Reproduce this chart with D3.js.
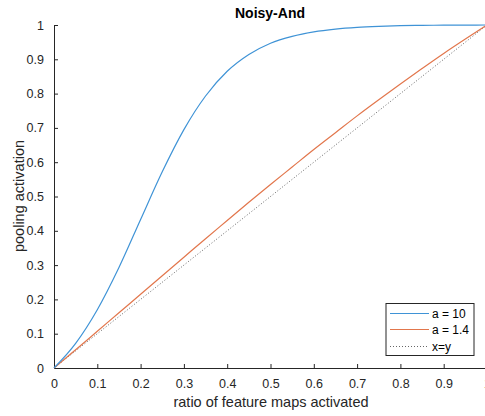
<!DOCTYPE html>
<html>
<head>
<meta charset="utf-8">
<script src="https://cdn.jsdelivr.net/npm/d3@7"></script>
<style>
  body { margin: 0; background: #fff; }
  svg { font-family: "Liberation Sans", Arial, sans-serif; }
</style>
</head>
<body>
<div id="chart"></div>
<script>
// values
const ratio = [0, 0.05, 0.1, 0.15, 0.2, 0.25, 0.3, 0.35, 0.4, 0.45, 0.5,
               0.55, 0.6, 0.65, 0.7, 0.75, 0.8, 0.85, 0.9, 0.95, 1];
const a10  = [0, 0.072, 0.170, 0.293, 0.433, 0.572, 0.695, 0.793, 0.865, 0.914, 0.947,
              0.967, 0.980, 0.988, 0.993, 0.996, 0.998, 0.999, 0.9994, 0.9998, 1];
const a14  = [0, 0.053, 0.107, 0.161, 0.215, 0.269, 0.323, 0.377, 0.430, 0.483, 0.535,
              0.586, 0.637, 0.686, 0.735, 0.782, 0.828, 0.873, 0.917, 0.959, 1];
const diag = [0, 1];
const diagX = [0, 1];
const xTicks = [0, 0.1, 0.2, 0.3, 0.4, 0.5, 0.6, 0.7, 0.8, 0.9, 1];
const yTicks = [0, 0.1, 0.2, 0.3, 0.4, 0.5, 0.6, 0.7, 0.8, 0.9, 1];
const seriesNames = ["a = 10", "a = 1.4", "x=y"];

const W = 485, H = 416;
const axisCol = "#262626";
const blue = "#3f93d6", orange = "#e2764c", grey = "#666";

const svg = d3.select("#chart").append("svg")
    .attr("width", W).attr("height", H);

const x = d3.scaleLinear().domain([0, 1]).range([54, 487]);
const y = d3.scaleLinear().domain([0, 1]).range([368, 25]);

//axes, matlab style ticks pointing inward
const xAxis = svg.append("g")
    .attr("transform", "translate(0," + y(0) + ")")
    .call(d3.axisBottom(x).tickValues(xTicks).tickFormat(d3.format("~g"))
          .tickSizeInner(-4).tickSizeOuter(0).tickPadding(11));
const yAxis = svg.append("g")
    .attr("transform", "translate(" + x(0) + ",0)")
    .call(d3.axisLeft(y).tickValues(yTicks).tickFormat(d3.format("~g"))
          .tickSizeInner(-4).tickSizeOuter(0).tickPadding(10));

svg.selectAll(".domain").attr("stroke", axisCol).attr("stroke-width", 1);
svg.selectAll(".tick line").attr("stroke", axisCol);
svg.selectAll(".tick text").attr("fill", axisCol).style("font-size", "12.5px");

const line = d3.line()
    .curve(d3.curveMonotoneX)
    .x(d => x(d[0]))
    .y(d => y(d[1]));

const plot = svg.append("g");

plot.append("path")
    .datum(d3.zip(diagX, diag))
    .attr("fill", "none")
    .attr("stroke", grey)
    .attr("stroke-width", 1)
    .attr("stroke-dasharray", "1,2")
    .attr("d", line);

plot.append("path")
    .datum(d3.zip(ratio, a14))
    .attr("fill", "none")
    .attr("stroke", orange)
    .attr("stroke-width", 1.2)
    .attr("d", line);

plot.append("path")
    .datum(d3.zip(ratio, a10))
    .attr("fill", "none")
    .attr("stroke", blue)
    .attr("stroke-width", 1.2)
    .attr("d", line);

// title and labels
svg.append("text")
    .attr("x", 270).attr("y", 18)
    .attr("text-anchor", "middle")
    .style("font-size", "14px").style("font-weight", "bold")
    .attr("fill", "#000")
    .text("Noisy-And");

svg.append("text")
    .attr("x", 271).attr("y", 407)
    .attr("text-anchor", "middle")
    .style("font-size", "14.5px")
    .attr("fill", axisCol)
    .text("ratio of feature maps activated");

svg.append("text")
    .attr("transform", "translate(24,196) rotate(-90)")
    .attr("text-anchor", "middle")
    .style("font-size", "14.5px")
    .attr("fill", axisCol)
    .text("pooling activation");

// legend
const lg = svg.append("g");
lg.append("rect")
    .attr("x", 386).attr("y", 303.5)
    .attr("width", 88).attr("height", 52)
    .attr("fill", "#fff").attr("stroke", axisCol).attr("stroke-width", 1);

const legStyles = [
  {stroke: blue, dash: null},
  {stroke: orange, dash: null},
  {stroke: grey, dash: "1,2"}
];
const legY = [313.5, 329.5, 346.5];
seriesNames.forEach((name, i) => {
  lg.append("line")
    .attr("x1", 390).attr("x2", 429)
    .attr("y1", legY[i]).attr("y2", legY[i])
    .attr("stroke", legStyles[i].stroke)
    .attr("stroke-width", 1.2)
    .attr("stroke-dasharray", legStyles[i].dash);
  lg.append("text")
    .attr("x", 432).attr("y", legY[i] + 4.5)
    .style("font-size", "12px")
    .attr("fill", "#000")
    .text(name);
});
</script>
</body>
</html>
